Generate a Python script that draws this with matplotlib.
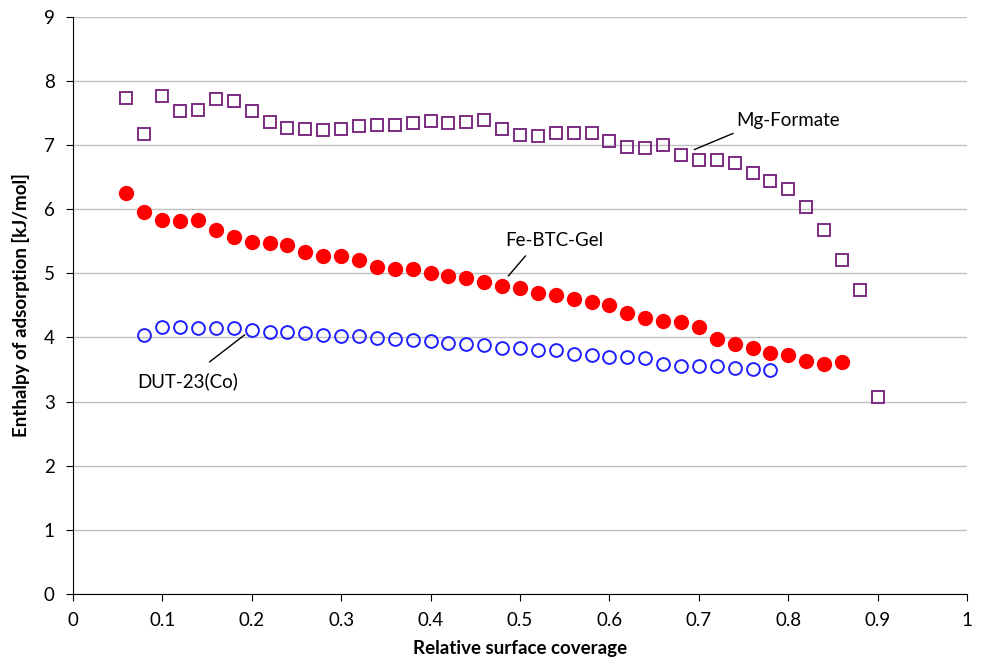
import matplotlib
matplotlib.use("Agg")
import matplotlib.pyplot as plt
import numpy as np

plt.rcParams['font.family'] = ['Lato', 'DejaVu Sans']

# Mg-Formate
x_mg = [0.06, 0.08, 0.10, 0.12, 0.14, 0.16, 0.18, 0.20, 0.22, 0.24, 0.26, 0.28, 0.30, 0.32,
        0.34, 0.36, 0.38, 0.40, 0.42, 0.44, 0.46, 0.48, 0.50, 0.52, 0.54, 0.56, 0.58, 0.60,
        0.62, 0.64, 0.66, 0.68, 0.70, 0.72, 0.74, 0.76, 0.78, 0.80, 0.82, 0.84, 0.86, 0.88, 0.90]
y_mg = [7.73, 7.17, 7.76, 7.53, 7.55, 7.72, 7.69, 7.53, 7.36, 7.27, 7.25, 7.23, 7.25, 7.30,
        7.31, 7.31, 7.35, 7.38, 7.35, 7.36, 7.39, 7.25, 7.16, 7.14, 7.19, 7.18, 7.18, 7.07,
        6.97, 6.96, 7.00, 6.84, 6.77, 6.77, 6.72, 6.56, 6.44, 6.31, 6.04, 5.68, 5.21, 4.74, 3.07]

# Fe-BTC-Gel
x_fe = [0.06, 0.08, 0.10, 0.12, 0.14, 0.16, 0.18, 0.20, 0.22, 0.24, 0.26, 0.28, 0.30, 0.32,
        0.34, 0.36, 0.38, 0.40, 0.42, 0.44, 0.46, 0.48, 0.50, 0.52, 0.54, 0.56, 0.58, 0.60,
        0.62, 0.64, 0.66, 0.68, 0.70, 0.72, 0.74, 0.76, 0.78, 0.80, 0.82, 0.84, 0.86]
y_fe = [6.25, 5.95, 5.83, 5.82, 5.83, 5.68, 5.57, 5.49, 5.48, 5.44, 5.33, 5.27, 5.27, 5.21,
        5.10, 5.06, 5.06, 5.01, 4.96, 4.93, 4.87, 4.81, 4.77, 4.70, 4.66, 4.60, 4.55, 4.51,
        4.38, 4.31, 4.26, 4.24, 4.16, 3.97, 3.90, 3.83, 3.76, 3.73, 3.63, 3.58, 3.61]

# DUT-23(Co)
x_dut = [0.08, 0.10, 0.12, 0.14, 0.16, 0.18, 0.20, 0.22, 0.24, 0.26, 0.28, 0.30, 0.32, 0.34,
         0.36, 0.38, 0.40, 0.42, 0.44, 0.46, 0.48, 0.50, 0.52, 0.54, 0.56, 0.58, 0.60, 0.62,
         0.64, 0.66, 0.68, 0.70, 0.72, 0.74, 0.76, 0.78]
y_dut = [4.04, 4.17, 4.16, 4.15, 4.15, 4.15, 4.11, 4.09, 4.08, 4.07, 4.04, 4.02, 4.02, 3.99,
         3.98, 3.96, 3.94, 3.91, 3.90, 3.88, 3.84, 3.83, 3.81, 3.80, 3.74, 3.73, 3.70, 3.69,
         3.68, 3.59, 3.56, 3.55, 3.55, 3.53, 3.51, 3.50]

fig = plt.figure(figsize=(9.84, 6.69), dpi=100)
ax = fig.add_axes([0.074, 0.112, 0.909, 0.863])

ax.plot(x_mg, y_mg, 's', ms=8.2, mfc='none', mec='#7B2C82', mew=1.4, ls='none')
ax.plot(x_fe, y_fe, 'o', ms=10, color='#FF0000', ls='none')
ax.plot(x_dut, y_dut, 'o', ms=9.2, mfc='none', mec='#1F1FFF', mew=1.4, ls='none')

ax.set_xlim(0, 1)
ax.set_ylim(0, 9)
ax.set_xticks(np.arange(0, 1.01, 0.1))
ax.set_xticklabels(['0', '0.1', '0.2', '0.3', '0.4', '0.5', '0.6', '0.7', '0.8', '0.9', '1'])
ax.set_yticks(range(0, 10))
ax.yaxis.grid(True, color='#BFBFBF', lw=1)
ax.set_axisbelow(True)
for s in ['top', 'right']:
    ax.spines[s].set_visible(False)
ax.spines['left'].set_color('black')
ax.spines['bottom'].set_color('black')
ax.tick_params(axis='both', labelsize=13.5, direction='out', length=5, pad=8)

ax.set_xlabel('Relative surface coverage', fontsize=13.5, fontweight='bold', labelpad=8)
ax.set_ylabel('Enthalpy of adsorption [kJ/mol]', fontsize=13.5, fontweight='bold', labelpad=10)

ax.plot([0.695, 0.738], [6.93, 7.18], color='black', lw=1)
ax.text(0.742, 7.38, 'Mg-Formate', fontsize=13.5, va='center', ha='left')
ax.plot([0.487, 0.506], [4.96, 5.27], color='black', lw=1)
ax.text(0.483, 5.51, 'Fe-BTC-Gel', fontsize=13.5, va='center', ha='left')
ax.plot([0.153, 0.192], [3.62, 4.04], color='black', lw=1)
ax.text(0.072, 3.32, 'DUT-23(Co)', fontsize=13.5, va='center', ha='left')

fig.savefig('out.png', dpi=100)
